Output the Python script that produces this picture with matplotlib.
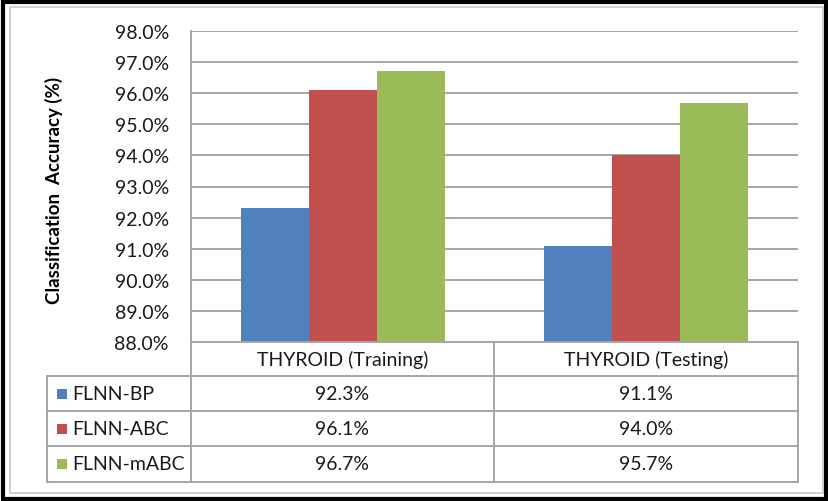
import matplotlib
matplotlib.use("Agg")
import matplotlib.pyplot as plt
from matplotlib.patches import Rectangle
from matplotlib.lines import Line2D
import numpy as np

categories = ["THYROID (Training)", "THYROID (Testing)"]
series = ["FLNN-BP", "FLNN-ABC", "FLNN-mABC"]
bp = [92.3, 91.1]
abc = [96.1, 94.0]
mabc = [96.7, 95.7]
colors = ["#4F81BD", "#C0504D", "#9BBB59"]
yticks = [88, 89, 90, 91, 92, 93, 94, 95, 96, 97, 98]

plt.rcParams['font.family'] = ['Lato', 'DejaVu Sans']

W, H = 829, 502
fig = plt.figure(figsize=(W / 100, H / 100), dpi=100)

def fx(x):
    return x / W

def fy(y):
    return 1 - y / H

# Outer borders
fig.add_artist(Rectangle((fx(3), fy(500)), fx(823), 497 / H, transform=fig.transFigure,
                         fill=False, edgecolor="black", linewidth=3))
fig.add_artist(Rectangle((fx(10), fy(494)), fx(813), 486 / H, transform=fig.transFigure,
                         fill=False, edgecolor="#C8C8C8", linewidth=1.2))

TXT = "#1a1a1a"
FS = 14

L, R, T, B = 191, 798, 32, 343
ax = fig.add_axes([fx(L), fy(B), fx(R - L), (B - T) / H])
values = [bp, abc, mabc]
x = np.arange(len(categories))
bw = 0.224
for i, (vals, c) in enumerate(zip(values, colors)):
    ax.bar(x + (i - 1) * bw, [v - 88 for v in vals], bw, bottom=88, color=c, zorder=3)
ax.set_xlim(-0.5, 1.5)
ax.set_ylim(88, 98)
ax.set_yticks(yticks)
ax.set_yticklabels([f"{t:.1f}%" for t in yticks], fontsize=FS, color=TXT)
ax.tick_params(axis='y', length=0, pad=16)
ax.set_xticks([])
ax.grid(axis='y', color="#A6A6A6", linewidth=1.4, zorder=0)
for s in ["top", "right", "bottom"]:
    ax.spines[s].set_visible(False)
ax.spines["left"].set_color("#A6A6A6")
ax.spines["left"].set_linewidth(1.4)
ax.set_ylabel("Classification  Accuracy (%)", fontsize=13.5, fontweight="bold", labelpad=0)
ax.yaxis.label.set_va("center")
ax.yaxis.set_label_coords((54 - L) / (R - L), 0.49)

# Data table
gc = "#A6A6A6"
rows_y = [343, 377, 412, 447, 483]
colx = [47, 191, 494, 798]
def hline(y, x0, x1):
    fig.add_artist(Line2D([fx(x0), fx(x1)], [fy(y), fy(y)], transform=fig.transFigure,
                          color=gc, linewidth=1.4))
def vline(x, y0, y1):
    fig.add_artist(Line2D([fx(x), fx(x)], [fy(y0), fy(y1)], transform=fig.transFigure,
                          color=gc, linewidth=1.4))
hline(rows_y[0], colx[1], colx[3])
for y in rows_y[1:]:
    hline(y, colx[0], colx[3])
vline(colx[0], rows_y[1], rows_y[-1])
vline(colx[1], rows_y[0], rows_y[-1])
vline(colx[2], rows_y[0], rows_y[-1])
vline(colx[3], rows_y[0], rows_y[-1])

for j, cat in enumerate(categories):
    xc = (colx[j + 1] + colx[j + 2]) / 2
    fig.text(fx(xc), fy((rows_y[0] + rows_y[1]) / 2), cat, ha="center", va="center",
             fontsize=FS, color=TXT)
for i, (name, vals, c) in enumerate(zip(series, values, colors)):
    yc = (rows_y[i + 1] + rows_y[i + 2]) / 2
    fig.add_artist(Rectangle((fx(57), fy(yc + 5)), fx(10), 10 / H, transform=fig.transFigure,
                             facecolor=c, edgecolor="none"))
    fig.text(fx(72), fy(yc), name, ha="left", va="center", fontsize=FS, color=TXT)
    for j, v in enumerate(vals):
        xc = (colx[j + 1] + colx[j + 2]) / 2
        fig.text(fx(xc), fy(yc), f"{v:.1f}%", ha="center", va="center",
                 fontsize=FS, color=TXT)

fig.savefig("out.png", dpi=100)
